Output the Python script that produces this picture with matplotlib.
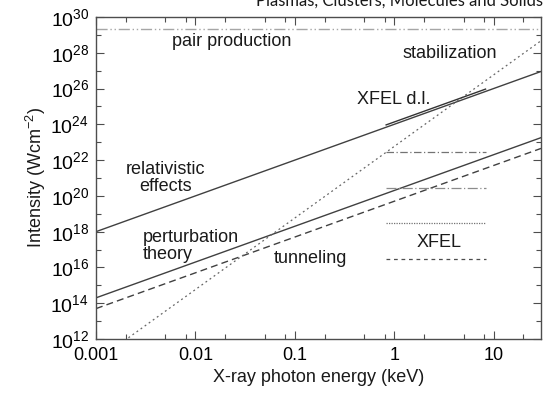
import numpy as np
import matplotlib
matplotlib.use("Agg")
import matplotlib.pyplot as plt
from matplotlib.ticker import LogLocator, NullFormatter, FixedLocator

# photon energy range (keV)
e_range = [0.001, 30.0]

# power laws I = a * E^n  (W/cm^2, E in keV)
relativistic = (1e24, 2)
perturbation = (2e20, 2)
tunneling = (5e19, 2)
stabilization = (5.8e22, 4)

pair_production = 2.1e29

# XFEL design intensity segment
xfel_dl_e = [0.83, 8.3]
xfel_dl_a = 1.35e24

# XFEL levels (horizontal lines)
xfel_e = [0.83, 8.3]
xfel_levels = [2.8e22, 2.7e20, 3e18, 3e16]
xfel_styles = [(0, (6, 2, 1, 2)), (0, (8, 2, 1, 2)), (0, (1, 1)), (0, (3, 3))]
xfel_colors = ["0.45", "0.55", "0.45", "0.3"]

plt.rcParams["font.family"] = ["Liberation Sans", "DejaVu Sans"]
plt.rcParams["mathtext.fontset"] = "custom"
plt.rcParams["mathtext.rm"] = "Liberation Sans"
plt.rcParams["mathtext.it"] = "Liberation Sans:italic"
plt.rcParams["mathtext.bf"] = "Liberation Sans:bold"

fig = plt.figure(figsize=(5.45, 3.94), dpi=100)
ax = fig.add_axes([96 / 545, 1 - 339 / 394, (541 - 96) / 545, (339 - 17) / 394])

E = np.logspace(np.log10(e_range[0]), np.log10(e_range[1]), 200)

a, n = relativistic
ax.plot(E, a * E**n, color="0.25", lw=1.0)
a, n = perturbation
ax.plot(E, a * E**n, color="0.25", lw=1.0)
a, n = tunneling
ax.plot(E, a * E**n, color="0.25", lw=1.0, ls=(0, (5, 3)))
a, n = stabilization
ax.plot(E, a * E**n, color="0.4", lw=0.9, ls=(0, (1.5, 2.5)))

ax.plot(e_range, [pair_production] * 2, color="0.65", lw=1.0, ls=(0, (8, 2, 1, 2, 1, 2)))

Ed = np.array(xfel_dl_e)
ax.plot(Ed, xfel_dl_a * Ed**2, color="0.2", lw=1.0)

for lev, st, c in zip(xfel_levels, xfel_styles, xfel_colors):
    ax.plot(xfel_e, [lev, lev], color=c, lw=0.9, ls=st)

ax.set_xscale("log")
ax.set_yscale("log")
ax.set_xlim(e_range)
ax.set_ylim(1e12, 1e30)

ax.xaxis.set_major_locator(FixedLocator([0.001, 0.01, 0.1, 1, 10]))
ax.set_xticklabels(["0.001", "0.01", "0.1", "1", "10"])
ax.xaxis.set_minor_locator(LogLocator(base=10, subs=[2, 5, 8]))
ax.xaxis.set_minor_formatter(NullFormatter())
ax.yaxis.set_major_locator(FixedLocator([10.0**k for k in range(12, 31, 2)]))
ax.set_yticklabels(["$10^{%d}$" % k for k in range(12, 31, 2)])
ax.yaxis.set_minor_locator(FixedLocator([10.0**k for k in range(13, 30, 2)]))
ax.yaxis.set_minor_formatter(NullFormatter())

ax.tick_params(which="both", direction="in", top=True, right=True, color="0.3")
ax.tick_params(which="major", length=6, width=0.8, labelsize=13, pad=6)
ax.tick_params(axis="y", which="major", labelsize=14, pad=5)
ax.tick_params(which="minor", length=3.5, width=0.8)
for s in ax.spines.values():
    s.set_color("0.3")
    s.set_linewidth(1.0)

ax.set_xlabel("X-ray photon energy (keV)", fontsize=13, color="0.1", labelpad=3)
ax.set_ylabel("Intensity (Wcm$^{-2}$)", fontsize=13, color="0.1", labelpad=2)

tk = dict(fontsize=13, color="0.1")
ax.text(10**-1.63, 10**28.65, "pair production", ha="center", va="center", **tk)
ax.text(10**0.555, 10**27.98, "stabilization", ha="center", va="center", **tk)
ax.text(10**-0.01, 10**25.4, "XFEL d.l.", ha="center", va="center", **tk)
ax.text(10**-2.305, 10**21.0, "relativistic\neffects", ha="center", va="center",
        linespacing=1.0, **tk)
ax.text(10**-2.53, 10**17.2, "perturbation\ntheory", ha="left", va="center",
        linespacing=1.0, **tk)
ax.text(10**-0.845, 10**16.5, "tunneling", ha="center", va="center", **tk)
ax.text(10**0.454, 10**17.4, "XFEL", ha="center", va="center", **tk)

fig.text(543 / 545, 1 - 6 / 394, "Plasmas, Clusters, Molecules and Solids",
         ha="right", va="baseline", fontsize=12, family=["Lato", "DejaVu Sans"],
         color="0.1")

fig.savefig("out.png", dpi=100)
